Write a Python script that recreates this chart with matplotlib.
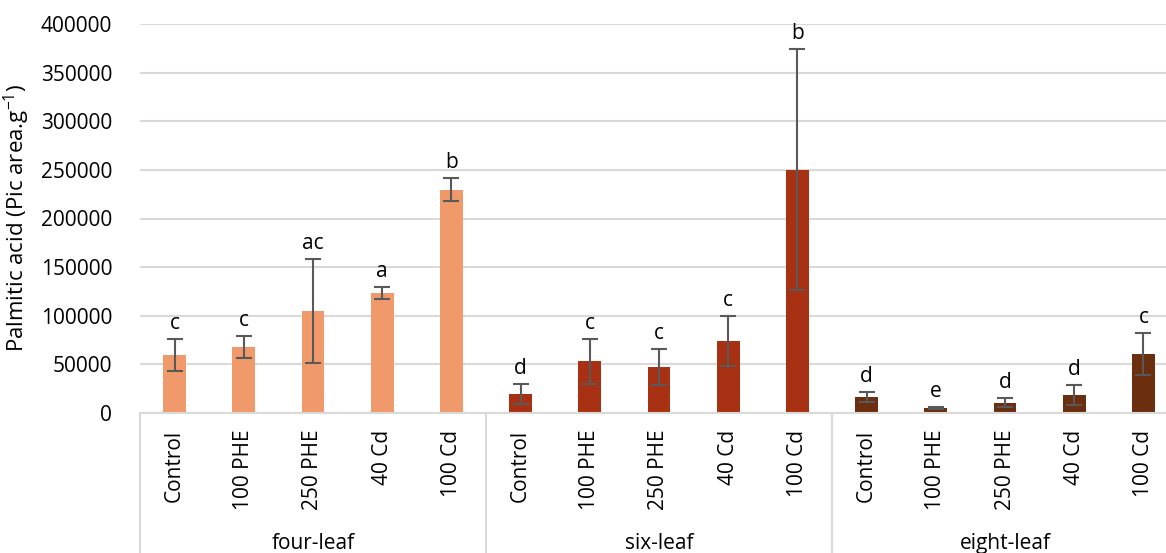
import numpy as np
import matplotlib
matplotlib.use("Agg")
import matplotlib.pyplot as plt
import matplotlib.transforms as mtrans

plt.rcParams["font.family"] = ["Open Sans", "DejaVu Sans"]

groups = ["four-leaf", "six-leaf", "eight-leaf"]
treatments = ["Control", "100 PHE", "250 PHE", "40 Cd", "100 Cd"]
group_colors = ["#F0996A", "#A93113", "#6B2E0E"]

means = [
    [60000, 68000, 105000, 123500, 229500],   # four-leaf
    [19500, 53000, 47500, 74000, 250000],     # six-leaf
    [16500, 5000, 10500, 18500, 61000],       # eight-leaf
]
errors = [
    [16500, 11000, 53500, 6500, 12000],
    [10500, 23500, 18500, 26000, 124000],
    [5500, 800, 4800, 10000, 21500],
]
letters = [
    ["c", "c", "ac", "a", "b"],
    ["d", "c", "c", "c", "b"],
    ["d", "e", "d", "d", "c"],
]

fig = plt.figure(figsize=(11.66, 5.53), dpi=100)
# plot area runs slightly past the right edge of the figure, as in the reference
ax = fig.add_axes([140 / 1166, 1 - 413 / 553, 1038 / 1166, 389 / 553])

n = len(treatments)
for g, grp in enumerate(groups):
    xs = np.arange(n) + g * n
    ax.bar(xs, means[g], width=0.33, color=group_colors[g], zorder=2)
    ax.errorbar(xs, means[g], yerr=errors[g], fmt="none", ecolor="#595959",
                elinewidth=1.5, capsize=6, capthick=1.5, zorder=3)
    for x, m, e, lab in zip(xs, means[g], errors[g], letters[g]):
        ax.text(x, m + e + 5000, lab, ha="center", va="bottom", fontsize=15,
                color="#000000")

ax.set_ylim(0, 400000)
ax.set_xlim(-0.5, len(groups) * n - 0.5)
ax.set_yticks(np.arange(0, 400001, 50000))
ax.yaxis.grid(True, color="#D9D9D9", linewidth=1.5, zorder=0)
ax.set_axisbelow(True)
for s in ["top", "right", "left"]:
    ax.spines[s].set_visible(False)
ax.spines["bottom"].set_color("#D9D9D9")
ax.spines["bottom"].set_linewidth(1.5)
ax.tick_params(axis="y", length=0, labelsize=15, pad=20)

ax.set_xticks(np.arange(len(groups) * n))
ax.set_xticklabels(treatments * len(groups), rotation=90, fontsize=15,
                   va="top", ha="center")
ax.tick_params(axis="x", length=0, pad=12)

fig.text(17 / 1166, 1 - 218 / 553,
         r"Palmitic acid (Pic area.g$^{\mathregular{-1}}$)", fontsize=16,
         rotation=90, ha="center", va="center")

# category separators and group labels below the axis
trans = mtrans.blended_transform_factory(ax.transData, ax.transAxes)
for b in np.arange(len(groups) + 1) * n - 0.5:
    ax.plot([b, b], [0, -0.4], transform=trans, color="#D9D9D9",
            linewidth=1.5, clip_on=False)
for g, grp in enumerate(groups):
    ax.text(g * n + (n - 1) / 2, -0.335, grp, transform=trans, ha="center",
            va="center", fontsize=15)

fig.savefig("out.png", dpi=100)
